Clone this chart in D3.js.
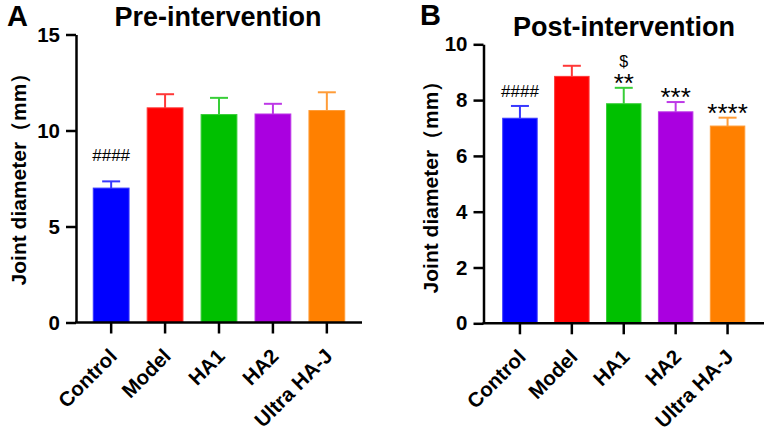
<!DOCTYPE html>
<html>

<head>
    <meta charset="utf-8" />
    <title>Joint diameter</title>
    <script src="https://d3js.org/d3.v7.min.js"></script>
</head>
<style>
    body { margin: 0; background-color: white; }
    svg { display: block; background-color: white; }
    text { font-family: "Liberation Sans", Arial, sans-serif; fill: #000; }
    .axis path, .axis line { stroke: #000; stroke-width: 2.5px; }
    .axis text { font-size: 20.5px; font-weight: bold; }
</style>

<body>
    <div id="container"></div>

    <script>
        /* chart data */
        var groups = ["Control", "Model", "HA1", "HA2", "Ultra HA-J"];
        var colors = ["#0000ff", "#ff0000", "#00c000", "#aa00e0", "#ff8000"];

        var preMean = [7.0, 11.18, 10.83, 10.86, 11.04];
        var preErr = [0.35, 0.71, 0.87, 0.53, 0.95];
        var preTicks = [0, 5, 10, 15];
        var preMarks = ["####", "", "", "", ""];

        var postMean = [7.35, 8.85, 7.87, 7.58, 7.07];
        var postErr = [0.44, 0.38, 0.57, 0.35, 0.30];
        var postTicks = [0, 2, 4, 6, 8, 10];
        var postHash = ["####", "", "", "", ""];
        var postStars = ["", "", "**", "***", "****"];
        var postDollar = ["", "", "$", "", ""];

        var width = 767, height = 430;

        var svg = d3.select("#container").append("svg")
            .attr("width", width).attr("height", height);

        function light(c) {
            return d3.interpolateRgb(c, "#ffffff")(0.22);
        }

        /* draws one bar panel, returns scales so the annotations can use them */
        function panel(opt) {
            var g = svg.append("g");

            var x = d3.scaleBand().domain(groups)
                .range([opt.left, opt.right])
                .paddingInner(0.336).paddingOuter(opt.outer);
            var y = d3.scaleLinear().domain([0, opt.max])
                .range([opt.bottom, opt.top]);

            var rows = groups.map(function (k, i) {
                return { name: k, mean: opt.mean[i], err: opt.err[i], color: colors[i] };
            });

            // error bars (behind the bars)
            var eb = g.append("g").selectAll("g").data(rows).enter().append("g")
                .attr("stroke", function (d) { return light(d.color); })
                .attr("stroke-width", 2);
            eb.append("line")
                .attr("x1", function (d) { return x(d.name) + x.bandwidth() / 2; })
                .attr("x2", function (d) { return x(d.name) + x.bandwidth() / 2; })
                .attr("y1", function (d) { return y(d.mean); })
                .attr("y2", function (d) { return y(d.mean + d.err); });
            eb.append("line")
                .attr("x1", function (d) { return x(d.name) + x.bandwidth() / 2 - 9; })
                .attr("x2", function (d) { return x(d.name) + x.bandwidth() / 2 + 9; })
                .attr("y1", function (d) { return y(d.mean + d.err); })
                .attr("y2", function (d) { return y(d.mean + d.err); });

            g.append("g").selectAll("rect").data(rows).enter().append("rect")
                .attr("x", function (d) { return x(d.name); })
                .attr("y", function (d) { return y(d.mean); })
                .attr("width", x.bandwidth())
                .attr("height", function (d) { return y(0) - y(d.mean); })
                .attr("fill", function (d) { return d.color; })
                .attr("stroke", function (d) { return light(d.color); })
                .attr("stroke-width", 1);

            // axes
            g.append("g").attr("class", "axis")
                .attr("transform", "translate(" + opt.left + ",0)")
                .call(d3.axisLeft(y).tickValues(opt.ticks).tickSize(10)
                    .tickSizeOuter(0).tickPadding(6).tickFormat(d3.format("d")));

            var xa = g.append("g").attr("class", "axis")
                .attr("transform", "translate(0," + opt.bottom + ")")
                .call(d3.axisBottom(x).tickSize(11).tickSizeOuter(0));
            xa.select(".domain").attr("d", "M" + (opt.left - 1) + ",0H" + opt.right);
            xa.selectAll(".tick text")
                .attr("x", 0).attr("y", 0).attr("dy", 0)
                .attr("text-anchor", "end")
                .attr("transform", "translate(7,35) rotate(-45)");

            // titles
            g.append("text").text(opt.title)
                .attr("x", opt.titleX).attr("y", opt.titleY)
                .attr("text-anchor", "middle")
                .style("font-size", "27px").style("font-weight", "bold");
            g.append("text").text(opt.letter)
                .attr("x", opt.letterX).attr("y", opt.letterY)
                .style("font-size", "29px").style("font-weight", "bold");
            g.append("text").text("Joint diameter（mm）")
                .attr("transform", "translate(" + opt.labelX + "," + opt.labelY + ") rotate(-90)")
                .attr("text-anchor", "middle")
                .style("font-size", "21px").style("font-weight", "bold");

            return { g: g, x: x, y: y, rows: rows };
        }

        var A = panel({
            left: 76, right: 362, outer: 0.32, top: 34.5, bottom: 322.5, max: 15,
            mean: preMean, err: preErr, ticks: preTicks,
            title: "Pre-intervention", titleX: 218, titleY: 26,
            letter: "A", letterX: 7, letterY: 26, labelX: 26, labelY: 174
        });

        var B = panel({
            left: 483.5, right: 764, outer: 0.37, top: 44.3, bottom: 323.3, max: 10,
            mean: postMean, err: postErr, ticks: postTicks,
            title: "Post-intervention", titleX: 624, titleY: 36,
            letter: "B", letterX: 420, letterY: 25, labelX: 438, labelY: 182
        });

        /* significance marks, placed above each error bar */
        function marks(p, list, size, gap) {
            p.g.append("g").selectAll("text").data(list).enter().append("text")
                .text(function (d) { return d; })
                .attr("x", function (d, i) { return p.x(groups[i]) + p.x.bandwidth() / 2; })
                .attr("y", function (d, i) { return p.y(p.rows[i].mean + p.rows[i].err) - gap[i]; })
                .attr("text-anchor", "middle")
                .style("font-size", size + "px");
        }

        marks(A, preMarks, 17, [20, 0, 0, 0, 0]);
        marks(B, postHash, 17, [9, 0, 0, 0, 0]);
        marks(B, postStars, 26, [0, 0, -4, -4, -4]);
        marks(B, postDollar, 16, [0, 0, 21, 0, 0]);
    </script>
</body>

</html>
